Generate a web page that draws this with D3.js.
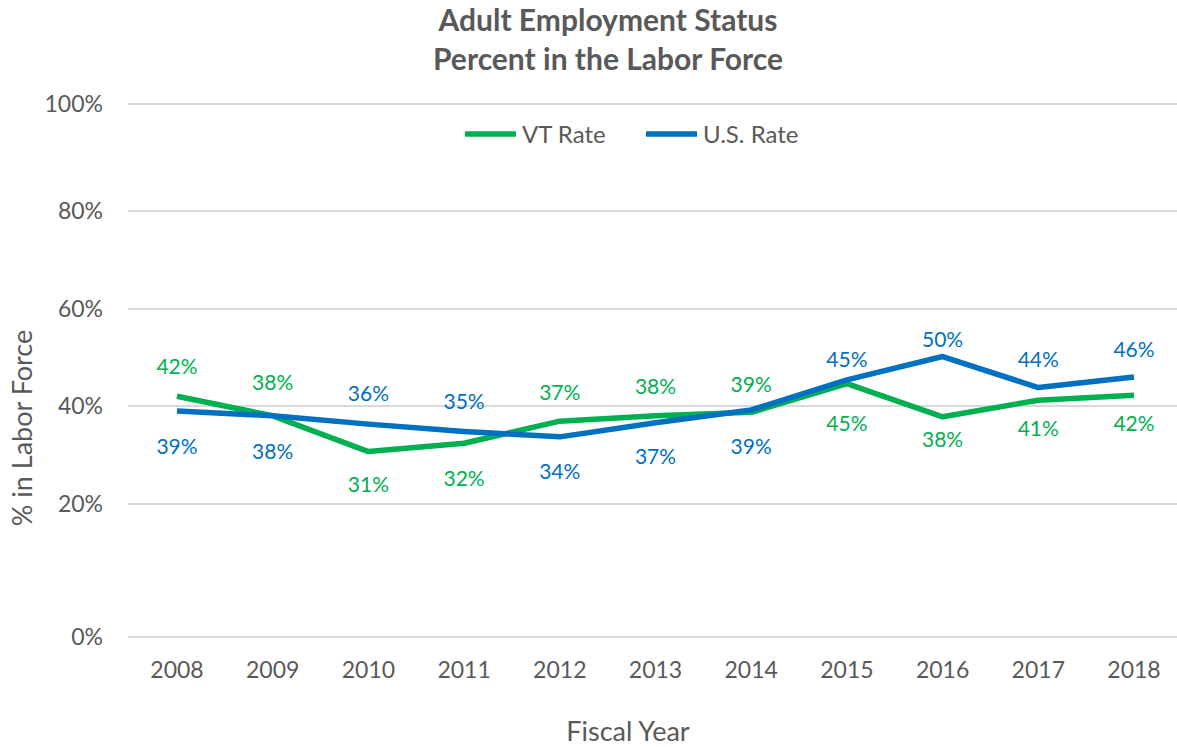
<!DOCTYPE html>
<html><head><meta charset="utf-8">
<script src="https://cdn.jsdelivr.net/npm/d3@7"></script>
<style>
body{margin:0;background:#fff;}
text{font-family:Lato, "Open Sans", sans-serif;}
</style></head>
<body><svg id="chart" width="1177" height="747"></svg>
<script>
const years = ["2008","2009","2010","2011","2012","2013","2014","2015","2016","2017","2018"];
const vtRate = [42, 38, 30.7, 32.4, 36.9, 38, 38.7, 44.6, 37.8, 41.2, 42.2];
const usRate = [39, 38, 36.3, 34.8, 33.7, 36.6, 39.2, 45.4, 50.2, 43.8, 46];
// label offsets (px, relative to the point) as placed in the source
const vtLabelOffset = [-30, -33, 33, 35, -29, -29, -28, 40, 23, 28, 28];
const usLabelOffset = [36, 36, -31, -30, 35, 34, 37, -20, -17, -28, -27];
const yTicks = [0, 20, 40, 60, 80, 100];
const seriesNames = ["VT Rate", "U.S. Rate"];
const seriesColors = ["#00b050", "#0070c0"];

const svg = d3.select("#chart");
const gray = "#595959";

const x = d3.scalePoint().domain(years).range([177, 1134]);
// the axis in the source is not evenly spaced; map each tick to its gridline
const y = d3.scaleLinear().domain(yTicks).range([637, 504, 406, 309, 211, 104]);

// gridlines
svg.append("g").selectAll("line").data(yTicks).join("line")
  .attr("x1", 128).attr("x2", 1177)
  .attr("y1", d => y(d)).attr("y2", d => y(d))
  .attr("stroke", "#d9d9d9").attr("stroke-width", 2);

// y tick labels
svg.append("g").selectAll("text").data(yTicks).join("text")
  .attr("x", 103).attr("y", d => y(d)).attr("dy", "0.36em")
  .attr("text-anchor", "end").attr("font-size", 23).attr("fill", gray)
  .text(d => d + "%");

// x tick labels
svg.append("g").selectAll("text").data(years).join("text")
  .attr("x", d => x(d)).attr("y", 670).attr("dy", "0.36em")
  .attr("text-anchor", "middle").attr("font-size", 23).attr("fill", gray)
  .text(d => d);

// titles
svg.append("text").attr("x", 608).attr("y", 31).attr("text-anchor", "middle")
  .attr("font-size", 30).attr("font-weight", "bold").attr("fill", gray)
  .text("Adult Employment Status");
svg.append("text").attr("x", 608).attr("y", 70).attr("text-anchor", "middle")
  .attr("font-size", 30).attr("font-weight", "bold").attr("fill", gray)
  .text("Percent in the Labor Force");
svg.append("text").attr("x", 628).attr("y", 731).attr("dy", "0.36em").attr("text-anchor", "middle")
  .attr("font-size", 27).attr("fill", gray).text("Fiscal Year");
svg.append("text").attr("transform", "translate(22,428) rotate(-90)")
  .attr("dy", "0.36em").attr("text-anchor", "middle")
  .attr("font-size", 27).attr("fill", gray).text("% in Labor Force");

const line = d3.line().x((d, i) => x(years[i])).y(d => y(d));
const series = [
  {vals: vtRate, off: vtLabelOffset, color: seriesColors[0]},
  {vals: usRate, off: usLabelOffset, color: seriesColors[1]}
];
series.forEach(s => {
  svg.append("path").datum(s.vals).attr("d", line)
    .attr("fill", "none").attr("stroke", s.color).attr("stroke-width", 5.5)
    .attr("stroke-linejoin", "round");
});
series.forEach(s => {
  svg.append("g").selectAll("text").data(s.vals).join("text")
    .attr("x", (d, i) => x(years[i]))
    .attr("y", (d, i) => y(d) + s.off[i])
    .attr("dy", "0.36em").attr("text-anchor", "middle")
    .attr("font-size", 21).attr("fill", s.color)
    .text(d => Math.round(d) + "%");
});

// legend
const legendX = [465, 646];
seriesNames.forEach((n, i) => {
  svg.append("line").attr("x1", legendX[i]).attr("x2", legendX[i] + 51)
    .attr("y1", 134).attr("y2", 134).attr("stroke", seriesColors[i]).attr("stroke-width", 5.5);
  svg.append("text").attr("x", legendX[i] + 57).attr("y", 134).attr("dy", "0.36em")
    .attr("font-size", 24).attr("fill", gray).text(n);
});
</script></body></html>
